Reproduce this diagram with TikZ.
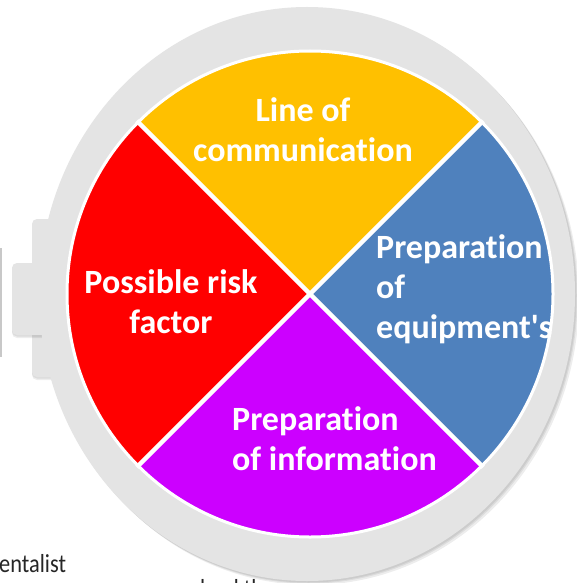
\documentclass[tikz,border=0pt]{standalone}
\usepackage{fontspec}
\usetikzlibrary{calc}
\setmainfont{Carlito}[Ligatures={TeXOff,NoCommon}]
\definecolor{watchgray}{HTML}{E4E4E4}
\definecolor{sliver}{HTML}{C8C8C8}
\definecolor{cyel}{HTML}{FFC000}
\definecolor{cred}{HTML}{FF0000}
\definecolor{cblue}{HTML}{4F81BD}
\definecolor{cpurple}{HTML}{CC00FF}
\begin{document}
\begin{tikzpicture}[x=1pt,y=-1pt,
  lbl/.style={text=white,font=\fontsize{34}{40}\selectfont\bfseries,inner sep=0pt},
  plain/.style={text=black!85,font=\fontsize{26}{30}\selectfont,inner sep=0pt},
  gap/.style={draw=white,line width=4.5pt},
  rim/.style={draw=white,line width=3pt},
  watch/.style={fill=watchgray},
  shade/.style={fill=black,opacity=0.07}]
\useasboundingbox (0,0) rectangle (577,583);
\fill[white] (0,0) rectangle (577,583);
% sliver at far left
\fill[sliver] (0,248) rectangle (2,357);
% tabs with shadows
\fill[shade,rounded corners=5pt] (32,222) rectangle (140,380);
\fill[shade,rounded corners=5pt] (32,221) rectangle (140,378.5);
\fill[watch,rounded corners=5pt] (32,219) rectangle (140,377);
\fill[shade,rounded corners=5pt] (12,265) rectangle (80,338);
\fill[shade,rounded corners=5pt] (12,264) rectangle (80,336.5);
\fill[watch,rounded corners=5pt] (12,263) rectangle (80,335);
% watch body with soft shadow
\fill[shade] (311,298) ellipse [x radius=268, y radius=287];
\fill[shade] (309.5,296.5) ellipse [x radius=268, y radius=287];
\fill[shade] (308.5,295.5) ellipse [x radius=268, y radius=287];
\fill[watch] (307,294) ellipse [x radius=268, y radius=287];
% pie
\coordinate (c) at (310,294);
\fill[cyel] (c) -- ++(225:243) arc[start angle=225, end angle=315, radius=243] -- cycle;
\fill[cblue] (c) -- ++(-45:243) arc[start angle=-45, end angle=45, radius=243] -- cycle;
\fill[cpurple] (c) -- ++(45:243) arc[start angle=45, end angle=135, radius=243] -- cycle;
\fill[cred] (c) -- ++(135:243) arc[start angle=135, end angle=225, radius=243] -- cycle;
\coordinate (d1) at ($(c)+(45:245)$);
\coordinate (d2) at ($(c)+(135:245)$);
\coordinate (d3) at ($(c)+(225:245)$);
\coordinate (d4) at ($(c)+(315:245)$);
\draw[gap] (d1) -- (d3);
\draw[gap] (d2) -- (d4);
\draw[rim] (c) circle[radius=243];
% labels (anchor = baseline of last line)
\node[lbl,align=center,anchor=base] (comm) at (303,161) {Line of\\communication};
\node[lbl,align=center,anchor=base] (risk) at (171,333) {Possible risk\\factor};
\node[lbl,align=left,anchor=base west] (equip) at (376,338) {Preparation\\of\\equipment's};
\node[lbl,align=left,anchor=base west] (info) at (232,470) {Preparation\\of information};
% cut-off page text
\node[plain,anchor=base west] (ental) at (-1,572) {\scalebox{0.86}[1]{entalist}};
\node[plain,anchor=base west] (cut) at (200,597) {\scalebox{0.86}[1]{lead the}};
\end{tikzpicture}
\end{document}
